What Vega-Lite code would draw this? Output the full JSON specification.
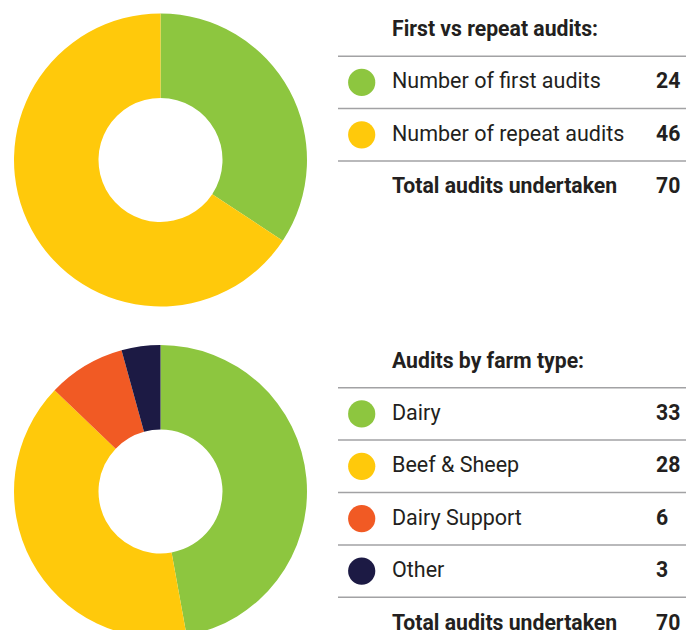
{
  "$schema": "https://vega.github.io/schema/vega-lite/v6.json",
  "padding": 0,
  "background": "white",
  "config": {"view": {"stroke": null}, "font": "Roboto", "axis": {"disable": true}},
  "columns": 2,
  "spacing": {"row": 11.5, "column": 17},
  "bounds": "flush",
  "datasets": {
    "first": [
      {"row": 0, "kind": "header", "label": "First vs repeat audits:"},
      {"row": 1, "kind": "item", "label": "Number of first audits", "value": 24},
      {"row": 2, "kind": "item", "label": "Number of repeat audits", "value": 46},
      {"row": 3, "kind": "total", "label": "Total audits undertaken", "value": 70}
    ],
    "farm": [
      {"row": 0, "kind": "header", "label": "Audits by farm type:"},
      {"row": 1, "kind": "item", "label": "Dairy", "value": 33},
      {"row": 2, "kind": "item", "label": "Beef & Sheep", "value": 28},
      {"row": 3, "kind": "item", "label": "Dairy Support", "value": 6},
      {"row": 4, "kind": "item", "label": "Other", "value": 3},
      {"row": 5, "kind": "total", "label": "Total audits undertaken", "value": 70}
    ]
  },
  "concat": [
    {
      "width": 321, "height": 320,
      "data": {"name": "first"},
      "transform": [{"filter": "datum.kind === 'item'"}],
      "mark": {"type": "arc", "radius": 146.5, "radius2": 62},
      "encoding": {
        "theta": {"field": "value", "type": "quantitative", "stack": true},
        "order": {"field": "row", "type": "quantitative"},
        "color": {"field": "label", "type": "nominal", "legend": null,
          "scale": {"domain": ["Number of first audits", "Number of repeat audits", "Dairy", "Beef & Sheep", "Dairy Support", "Other"],
                    "range": ["#8dc63f", "#ffc90b", "#8dc63f", "#ffc90b", "#f15a24", "#1c1a44"]}}
      }
    },
    {
      "width": 348, "height": 320,
      "data": {"name": "first"},
      "encoding": {
        "y": {"field": "row", "type": "quantitative", "axis": null,
          "scale": {"domain": [-0.5725, 5.534], "reverse": true, "zero": false, "nice": false}}
      },
      "layer": [
        {
          "transform": [{"filter": "datum.row >= 1"}],
          "mark": {"type": "rule", "color": "#a2a2a4", "strokeWidth": 1.5, "yOffset": -26.2},
          "encoding": {
            "x": {"datum": 0, "type": "quantitative", "axis": null, "scale": {"domain": [0, 348], "zero": false, "nice": false}},
            "x2": {"datum": 348}
          }
        },
        {
          "transform": [{"filter": "datum.kind === 'item'"}],
          "mark": {"type": "point", "shape": "circle", "filled": true, "opacity": 1, "size": 740},
          "encoding": {
            "x": {"datum": 23.7, "type": "quantitative"},
            "color": {"field": "label", "type": "nominal", "legend": null,
              "scale": {"domain": ["Number of first audits", "Number of repeat audits", "Dairy", "Beef & Sheep", "Dairy Support", "Other"],
                        "range": ["#8dc63f", "#ffc90b", "#8dc63f", "#ffc90b", "#f15a24", "#1c1a44"]}}
          }
        },
        {
          "transform": [{"filter": "datum.kind === 'item'"}],
          "mark": {"type": "text", "align": "left", "baseline": "middle", "fontSize": 21.5, "color": "#231f20", "font": "Roboto"},
          "encoding": {"x": {"datum": 54, "type": "quantitative"}, "text": {"field": "label"}}
        },
        {
          "transform": [{"filter": "datum.kind !== 'item'"}],
          "mark": {"type": "text", "align": "left", "baseline": "middle", "fontSize": 21.2, "fontWeight": "bold", "color": "#231f20", "font": "Roboto"},
          "encoding": {"x": {"datum": 54, "type": "quantitative"}, "text": {"field": "label"}}
        },
        {
          "transform": [{"filter": "datum.kind !== 'header'"}],
          "mark": {"type": "text", "align": "left", "baseline": "middle", "fontSize": 21.2, "fontWeight": "bold", "color": "#231f20", "font": "Roboto"},
          "encoding": {"x": {"datum": 318, "type": "quantitative"}, "text": {"field": "value"}}
        }
      ]
    },
    {
      "width": 321, "height": 320,
      "data": {"name": "farm"},
      "transform": [{"filter": "datum.kind === 'item'"}],
      "mark": {"type": "arc", "radius": 146.5, "radius2": 62},
      "encoding": {
        "theta": {"field": "value", "type": "quantitative", "stack": true},
        "order": {"field": "row", "type": "quantitative"},
        "color": {"field": "label", "type": "nominal", "legend": null,
          "scale": {"domain": ["Number of first audits", "Number of repeat audits", "Dairy", "Beef & Sheep", "Dairy Support", "Other"],
                    "range": ["#8dc63f", "#ffc90b", "#8dc63f", "#ffc90b", "#f15a24", "#1c1a44"]}}
      }
    },
    {
      "width": 348, "height": 320,
      "data": {"name": "farm"},
      "encoding": {
        "y": {"field": "row", "type": "quantitative", "axis": null,
          "scale": {"domain": [-0.5725, 5.534], "reverse": true, "zero": false, "nice": false}}
      },
      "layer": [
        {
          "transform": [{"filter": "datum.row >= 1"}],
          "mark": {"type": "rule", "color": "#a2a2a4", "strokeWidth": 1.5, "yOffset": -26.2},
          "encoding": {
            "x": {"datum": 0, "type": "quantitative", "axis": null, "scale": {"domain": [0, 348], "zero": false, "nice": false}},
            "x2": {"datum": 348}
          }
        },
        {
          "transform": [{"filter": "datum.kind === 'item'"}],
          "mark": {"type": "point", "shape": "circle", "filled": true, "opacity": 1, "size": 740},
          "encoding": {
            "x": {"datum": 23.7, "type": "quantitative"},
            "color": {"field": "label", "type": "nominal", "legend": null,
              "scale": {"domain": ["Number of first audits", "Number of repeat audits", "Dairy", "Beef & Sheep", "Dairy Support", "Other"],
                        "range": ["#8dc63f", "#ffc90b", "#8dc63f", "#ffc90b", "#f15a24", "#1c1a44"]}}
          }
        },
        {
          "transform": [{"filter": "datum.kind === 'item'"}],
          "mark": {"type": "text", "align": "left", "baseline": "middle", "fontSize": 21.5, "color": "#231f20", "font": "Roboto"},
          "encoding": {"x": {"datum": 54, "type": "quantitative"}, "text": {"field": "label"}}
        },
        {
          "transform": [{"filter": "datum.kind !== 'item'"}],
          "mark": {"type": "text", "align": "left", "baseline": "middle", "fontSize": 21.2, "fontWeight": "bold", "color": "#231f20", "font": "Roboto"},
          "encoding": {"x": {"datum": 54, "type": "quantitative"}, "text": {"field": "label"}}
        },
        {
          "transform": [{"filter": "datum.kind !== 'header'"}],
          "mark": {"type": "text", "align": "left", "baseline": "middle", "fontSize": 21.2, "fontWeight": "bold", "color": "#231f20", "font": "Roboto"},
          "encoding": {"x": {"datum": 318, "type": "quantitative"}, "text": {"field": "value"}}
        }
      ]
    }
  ]
}
